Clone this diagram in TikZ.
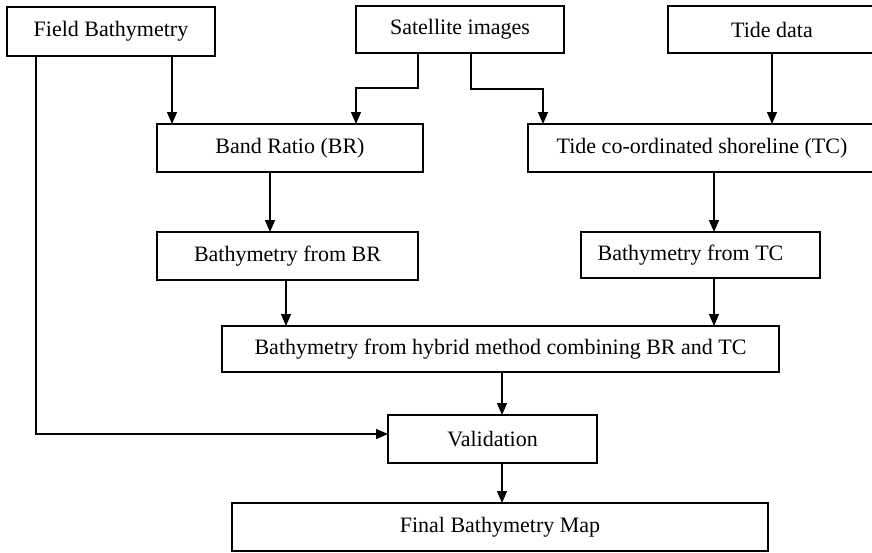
\documentclass[tikz,border=0pt]{standalone}
\usepackage{fontspec}
\setmainfont{Liberation Serif}
\usetikzlibrary{arrows.meta}
\begin{document}
\begin{tikzpicture}[x=1pt,y=-1pt,
  box/.style={draw=black, line width=1.2pt, inner sep=0pt, outer sep=0pt,
    font=\fontsize{22}{26}\selectfont, align=center},
  link/.style={draw=black, line width=1.2pt},
  arr/.style={link, -{Triangle[width=10pt,length=12pt]}}]
\useasboundingbox (0,0) rectangle (872,552);

% input data
\node[box, minimum width=208pt, minimum height=49pt] (fb)   at (111,31.5)  {Field Bathymetry};
\node[box, minimum width=208pt, minimum height=47pt] (sat)  at (460,29.5)  {Satellite images};
\node[box, minimum width=208pt, minimum height=47pt] (tide) at (772,29.5)  {Tide data};

% processing steps
\node[box, minimum width=266pt, minimum height=48pt] (br)  at (290,148)   {Band Ratio (BR)};
\node[box, minimum width=348pt, minimum height=48pt] (tc)  at (702,148)   {Tide co-ordinated shoreline (TC)};
\node[box, minimum width=261pt, minimum height=48pt] (bbr) at (287.5,256) {Bathymetry from BR};
\node[box, minimum width=239pt, minimum height=46pt] (btc) at (700.5,255) {Bathymetry from TC\hspace*{20pt}};
\node[box, minimum width=557pt, minimum height=46pt] (hyb) at (500.5,349) {Bathymetry from hybrid method combining BR and TC};
\node[box, minimum width=209pt, minimum height=48pt] (val) at (492.5,439) {Validation};
\node[box, minimum width=536pt, minimum height=48pt] (fin) at (500,527)   {Final Bathymetry Map};

% connectors
\draw[arr] (172,0 |- fb.south) -- (172,0 |- br.north);
\draw[arr] (418,0 |- sat.south) -- (418,88) -- (356,88) -- (356,0 |- br.north);
\draw[arr] (471,0 |- sat.south) -- (471,89) -- (543,89) -- (543,0 |- tc.north);
\draw[arr] (772,0 |- tide.south) -- (772,0 |- tc.north);
\draw[arr] (270,0 |- br.south) -- (270,0 |- bbr.north);
\draw[arr] (714,0 |- tc.south) -- (714,0 |- btc.north);
\draw[arr] (286,0 |- bbr.south) -- (286,0 |- hyb.north);
\draw[arr] (714,0 |- btc.south) -- (714,0 |- hyb.north);
\draw[arr] (502,0 |- hyb.south) -- (502,0 |- val.north);
\draw[arr] (502,0 |- val.south) -- (502,0 |- fin.north);
\draw[arr] (36,0 |- fb.south) -- (36,434) -- (val.west |- 0,434);
\end{tikzpicture}
\end{document}
